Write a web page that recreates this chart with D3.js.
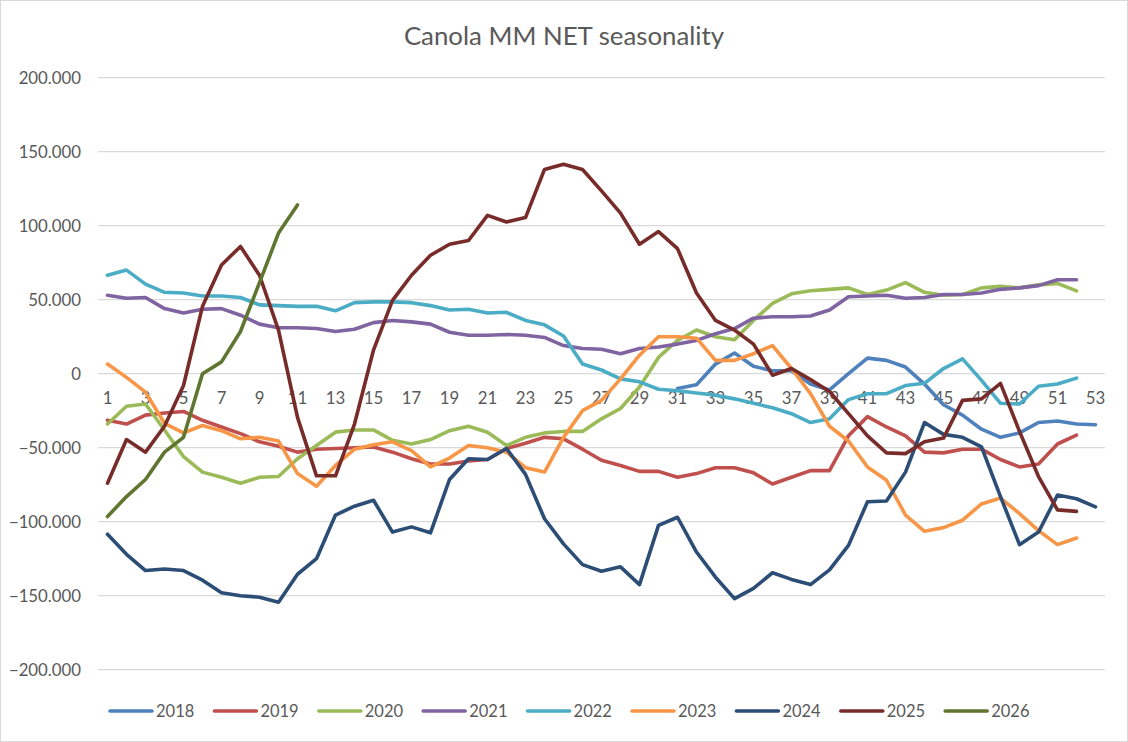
<!DOCTYPE html>
<html>
<head>
<meta charset="utf-8">
<script src="https://cdn.jsdelivr.net/npm/d3@7"></script>
<style>
  body { margin: 0; background: #fff; }
  text { font-family: Lato, "Open Sans", sans-serif; fill: #595959; }
</style>
</head>
<body>
<div id="chart"></div>
<script>
var width = 1128,
  height = 742;

// weeks on the x axis
var weeks = d3.range(1, 54);
var weekLabels = d3.range(1, 54, 2);
var yTicks = [-200, -150, -100, -50, 0, 50, 100, 150, 200];

// values in thousands
var years = ["2018", "2019", "2020", "2021", "2022", "2023", "2024", "2025", "2026"];
var startWeek = [31, 1, 1, 1, 1, 1, 1, 1, 1];
var colors = ["#4F81BD", "#C0504D", "#9BBB59", "#8064A2", "#4BACC6", "#F79646", "#2C4D75", "#772C2A", "#5F7530"];

var s2018 = [-10, -7.5, 6.5, 14, 5, 2, 2, -7, -11, 0,
  10.5, 9, 4.5, -7, -21, -28, -37.5, -43, -40, -33, -32, -34, -34.5];
var s2019 = [-31.5, -34, -28, -26.5, -25.5, -31.5, -36, -40.5, -46, -49,
  -53, -51, -50.5, -50, -49.5, -53, -57.5, -61, -61, -59,
  -58, -50.5, -47, -43, -44, -51, -58.5, -62, -66, -66,
  -70, -67.5, -63.5, -63.5, -67, -74.5, -70, -65.5, -65.5, -42,
  -29, -36, -42, -53, -53.5, -51, -51, -58, -63, -61, -47.5, -41.5];
var s2020 = [-34, -22, -20.5, -38, -56, -66.5, -70, -74, -70, -69.5,
  -57.5, -48.5, -39.5, -38, -38, -45, -47.5, -44.5, -38.5, -35.5,
  -39.5, -48.5, -43, -40, -39, -39, -30.5, -23.5, -9, 11,
  22.5, 29.5, 25, 23, 36, 47.5, 54, 56, 57, 58,
  53.5, 56.5, 61.5, 55, 53, 53.5, 58, 59, 58, 60, 61, 56];
var s2021 = [53, 51, 51.5, 44, 41, 43.5, 44, 39.5, 33.5, 31,
  31, 30.5, 28.5, 30, 34.5, 36, 35, 33.5, 28, 26,
  26, 26.5, 26, 24.5, 19, 17, 16.5, 13.5, 17, 18,
  20, 22.5, 27, 30.5, 37.5, 38.5, 38.5, 39, 43, 52,
  52.5, 53, 51, 51.5, 53.5, 53.5, 54.5, 57, 58, 59.5, 63.5, 63.5];
var s2022 = [66.5, 70, 60.5, 55, 54.5, 52.5, 52.5, 51.5, 46.5, 46,
  45.5, 45.5, 42.5, 48, 48.5, 48.5, 48, 46, 43, 43.5,
  41, 41.5, 36, 33, 25.5, 6.5, 2.5, -3.5, -5.5, -10.5,
  -11.5, -13, -14.5, -17, -20, -23, -27, -33, -30.5, -17.5,
  -13.5, -13.5, -8, -6.5, 3.5, 10, -4.5, -20, -20.5, -8.5, -7, -3];
var s2023 = [6.5, -2.5, -12.5, -33.5, -40, -35, -38.5, -44, -43, -45.5,
  -67.5, -76, -62, -51, -48, -46, -52, -63, -57, -48.5,
  -50, -53, -63.5, -66.5, -43, -25, -18, -3.5, 12.5, 25,
  25, 24, 9, 9, 13.5, 19, 3.5, -13.5, -35.5, -45.5,
  -63, -72, -95.5, -106.5, -104, -99, -88, -84, -94.5, -106, -115.5, -111];
var s2024 = [-108.5, -122, -133, -132, -133, -139.5, -148, -150, -151, -154.5,
  -135.5, -125, -95.5, -89.5, -85.5, -107, -103.5, -107.5, -71.5, -57.5,
  -58, -50.5, -68, -98, -115, -129, -133.5, -130.5, -142.5, -102.5,
  -97, -120.5, -137.5, -152, -145, -134.5, -139, -142.5, -132.5, -116,
  -86.5, -86, -66.5, -33, -41, -43, -49.5, -83, -115.5, -107, -82, -84.5, -90];
var s2025 = [-74, -44.5, -53, -35.5, -8, 45.5, 73.5, 86, 66.5, 29.5,
  -29.5, -69, -69, -34, 16, 49.5, 66.5, 80, 87.5, 90,
  107, 102.5, 105.5, 138, 141.5, 138, 123.5, 108.5, 87.5, 96,
  84.5, 54.5, 36, 29.5, 20, -1, 3.5, -4, -12, -27,
  -42, -53.5, -54, -46, -43.5, -18, -17, -6.5, -39, -69.5, -92, -93];
var s2026 = [-96.5, -83, -71.5, -53, -43, 0, 8, 28.5, 61.5, 95, 114];

var seriesValues = [s2018, s2019, s2020, s2021, s2022, s2023, s2024, s2025, s2026];

var series = years.map(function(y, i) {
  return {
    name: y,
    color: colors[i],
    points: seriesValues[i].map(function(v, j) { return {week: startWeek[i] + j, value: v}; })
  };
});

var svg = d3.select("#chart").append("svg")
  .attr("width", width)
  .attr("height", height);

// chart border
svg.append("rect")
  .attr("x", 0.5).attr("y", 0.5)
  .attr("width", width - 1).attr("height", height - 1)
  .attr("fill", "#fff")
  .attr("stroke", "#D9D9D9");

var x = d3.scaleLinear()
  .domain([0.5, 53.5])
  .range([98, 1105]);

var y = d3.scaleLinear()
  .domain([-200, 200])
  .range([669.7, 77.7]);

function fmt(d) {
  if (d === 0) return "0";
  return d3.format(",")(d * 1000).replace(/,/g, ".");
}

// gridlines
svg.append("g")
  .selectAll("line")
  .data(yTicks)
  .enter().append("line")
    .attr("x1", x.range()[0])
    .attr("x2", x.range()[1])
    .attr("y1", function(d) { return y(d); })
    .attr("y2", function(d) { return y(d); })
    .attr("stroke", "#D9D9D9")
    .attr("stroke-width", 1.3);

// y tick labels
svg.append("g")
  .selectAll("text")
  .data(yTicks)
  .enter().append("text")
    .attr("x", 81)
    .attr("y", function(d) { return y(d); })
    .attr("dy", "0.35em")
    .attr("text-anchor", "end")
    .style("font-size", "16.8px")
    .text(fmt);

// x tick labels sit under the zero line
svg.append("g")
  .selectAll("text")
  .data(weekLabels)
  .enter().append("text")
    .attr("x", function(d) { return x(d); })
    .attr("y", y(0) + 24)
    .attr("dy", "0.35em")
    .attr("text-anchor", "middle")
    .style("font-size", "16.8px")
    .text(function(d) { return d; });

var line = d3.line()
  .x(function(d) { return x(d.week); })
  .y(function(d) { return y(d.value); });

svg.append("g")
  .selectAll("path")
  .data(series)
  .enter().append("path")
    .attr("d", function(d) { return line(d.points); })
    .attr("fill", "none")
    .attr("stroke", function(d) { return d.color; })
    .attr("stroke-width", 3.6)
    .attr("stroke-linejoin", "round")
    .attr("stroke-linecap", "round");

// title
svg.append("text")
  .attr("x", 564)
  .attr("y", 45)
  .attr("text-anchor", "middle")
  .style("font-size", "25.8px")
  .text("Canola MM NET seasonality");

// legend
var legend = svg.append("g")
  .selectAll("g")
  .data(series)
  .enter().append("g")
    .attr("transform", function(d, i) { return "translate(" + (110 + i * 104.4) + ",711)"; });

legend.append("line")
  .attr("x1", 0).attr("x2", 42)
  .attr("stroke", function(d) { return d.color; })
  .attr("stroke-width", 3.6)
  .attr("stroke-linecap", "round");

legend.append("text")
  .attr("x", 46)
  .attr("dy", "0.35em")
  .style("font-size", "16.5px")
  .text(function(d) { return d.name; });
</script>
</body>
</html>
